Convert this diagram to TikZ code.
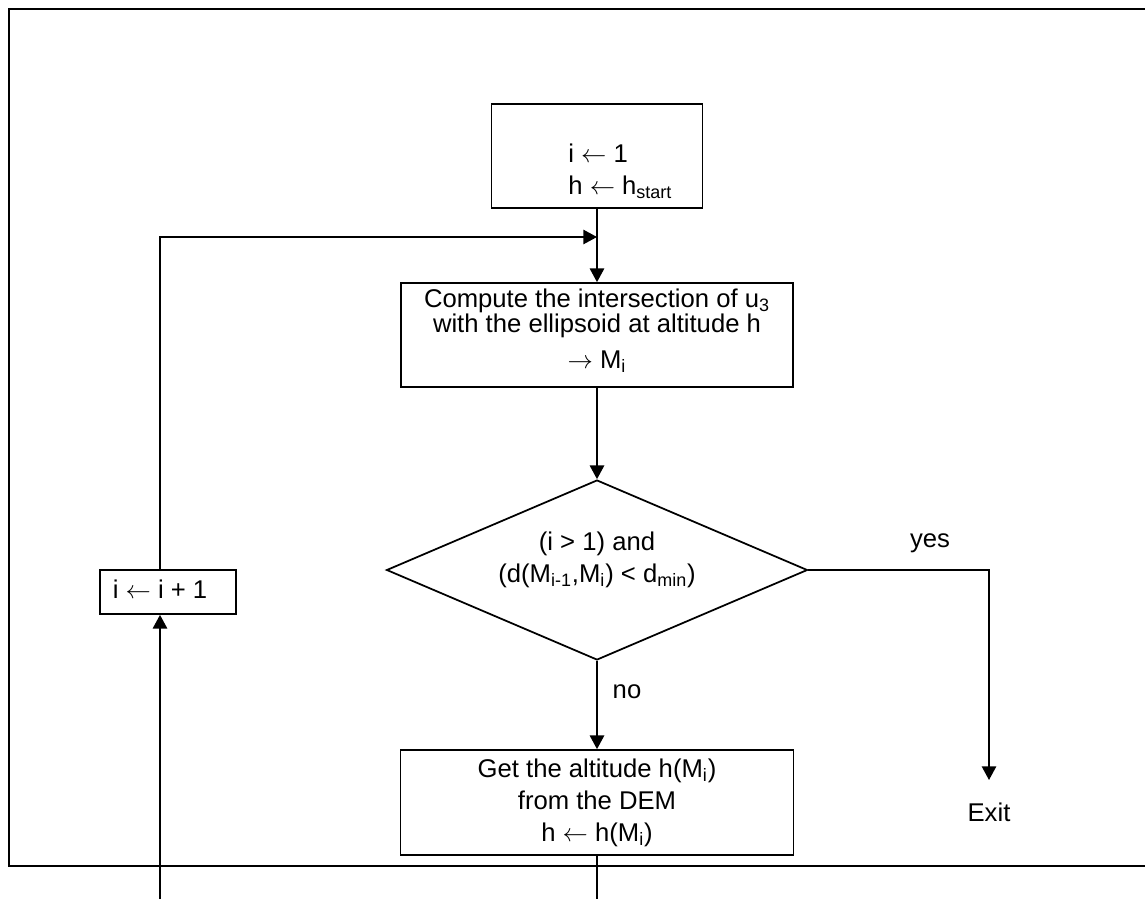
\documentclass[tikz,border=0pt]{standalone}
\usepackage{fontspec}
\setmainfont{Liberation Sans}
\usetikzlibrary{arrows.meta, shapes.geometric}

\begin{document}
\begin{tikzpicture}[x=0.02cm, y=-0.02cm,
font=\fontsize{14.6pt}{18.2pt}\selectfont,
box/.style={draw, line width=1pt, inner sep=0pt},
txt/.style={inner sep=0pt},
ln/.style={line width=0.9pt},
arr/.style={line width=0.9pt, -{Triangle[length=7.8pt, width=8.2pt]}}]
\useasboundingbox (0,0) rectangle (1145,899);
%    frame/.style={draw}
\draw[line width=1.5pt] (1145,9) -- (9,9) -- (9,866) -- (1145,866);

\node[box, minimum width=4.22cm, minimum height=2.08cm] (init) at (597,156) {};
\node[txt, anchor=west, align=left] (inittext) at (568,171) {i $\leftarrow$ 1\\ h $\leftarrow$ h\textsubscript{start}};

\node[box, minimum width=7.84cm, minimum height=2.08cm] (comp) at (597,335) {};
\node[txt, align=center, font={\fontsize{14.6pt}{13.8pt}\selectfont\lineskiplimit=-10pt}] (comptext) at (597,331)
{Compute the intersection of u\textsubscript{3}\\ with the ellipsoid at altitude h\\[7pt] $\rightarrow$ M\textsubscript{i}};

\node[box, diamond, minimum width=8.42cm, minimum height=3.6cm] (test) at (597,570) {};
\node[txt, align=center] (testtext) at (597,560) {(i > 1) and\\ (d(M\textsubscript{i-1},M\textsubscript{i}) < d\textsubscript{min})};

\node[box, minimum width=7.86cm, minimum height=2.1cm, align=center] (proc) at (597,802.5)
{Get the altitude h(M\textsubscript{i})\\ from the DEM\\ h $\leftarrow$ h(M\textsubscript{i})};

\node[box, minimum width=2.72cm, minimum height=0.88cm] (inc) at (168,592) {};
\node[txt] (inctext) at (160,589) {i $\leftarrow$ i + 1};

\node[txt] (exit) at (989,812) {Exit};
\node[txt] (yes) at (930,543) {yes};
\node[txt] (no) at (627,692) {no};

\coordinate (join) at (597,237);
\coordinate (exitend) at (989,780);
\coordinate (botL) at (160,899);
\coordinate (botR) at (597,899);

\draw[arr] (init) -- (comp);
\draw[arr] (comp) -- (test);
\draw[arr] (test.east) -| (exitend); % yes
\draw[arr] (test) -- (proc); % no
\draw[ln] (proc) -- (botR);
\draw[arr] (botL) -- (botL |- inc.south);
\draw[arr] (botL |- inc.north) |- (join);

\end{tikzpicture}
\end{document}
